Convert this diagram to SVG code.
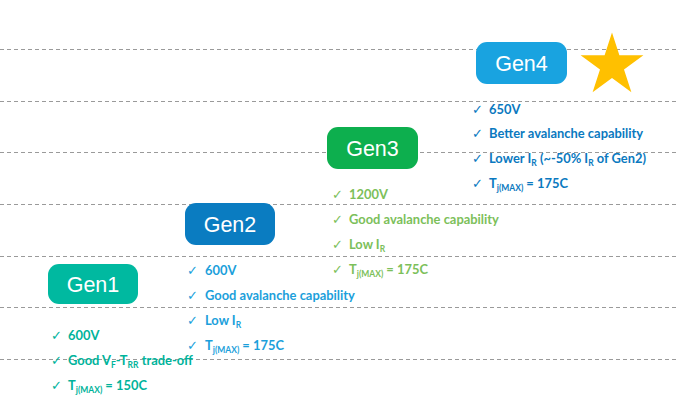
<svg xmlns="http://www.w3.org/2000/svg" width="678" height="408" viewBox="0 0 678 408">
<style>
.grid{stroke:#9a9a9a;stroke-width:1;stroke-dasharray:4 3;fill:none}
.lbl{font-family:"Liberation Sans",Arial,sans-serif;font-size:21.5px;fill:#fff;text-anchor:middle}
.it{font-family:Lato,"Liberation Sans",sans-serif;font-weight:bold;font-size:12.9px}
.ck{font-family:"DejaVu Sans",sans-serif;font-size:13px}
.sub{font-size:8.5px}
.g1{fill:#00b39b}.g2{fill:#1c9fdb}.g3{fill:#7cc05a}.g4{fill:#0a79c0}
</style>
<rect width="678" height="408" fill="#fff"/>
<g id="gridlines">
<line class="grid" x1="0" y1="49.5" x2="678" y2="49.5"/>
<line class="grid" x1="0" y1="101.5" x2="678" y2="101.5"/>
<line class="grid" x1="0" y1="152.5" x2="678" y2="152.5"/>
<line class="grid" x1="0" y1="204.5" x2="678" y2="204.5"/>
<line class="grid" x1="0" y1="256.5" x2="678" y2="256.5"/>
<line class="grid" x1="0" y1="307.5" x2="678" y2="307.5"/>
<line class="grid" x1="0" y1="359.5" x2="678" y2="359.5"/>
</g>
<g id="connectors"></g>
<g id="gen1">
<rect x="48" y="264" width="90" height="40" rx="11" fill="#00b9a0"/>
<text class="lbl" x="93" y="291.5">Gen1</text>
<g class="g1">
<text class="ck" x="51" y="340">✓</text><text class="it" x="68" y="340">600V</text>
<text class="ck" x="51" y="365">✓</text><text class="it" x="68" y="365">Good V<tspan class="sub" dy="3">F</tspan><tspan dy="-3">-T</tspan><tspan class="sub" dy="3">RR</tspan><tspan dy="-3"> trade-off</tspan></text>
<text class="ck" x="51" y="390">✓</text><text class="it" x="68" y="390">T<tspan class="sub" dy="3">j(MAX)</tspan><tspan dy="-3"> = 150C</tspan></text>
</g>
</g>
<g id="gen2">
<rect x="185" y="203" width="90" height="42" rx="11" fill="#0a7cc1"/>
<text class="lbl" x="230" y="231.5">Gen2</text>
<g class="g2">
<text class="ck" x="187" y="275">✓</text><text class="it" x="205" y="275">600V</text>
<text class="ck" x="187" y="300">✓</text><text class="it" x="205" y="300">Good avalanche capability</text>
<text class="ck" x="187" y="325">✓</text><text class="it" x="205" y="325">Low I<tspan class="sub" dy="3">R</tspan></text>
<text class="ck" x="187" y="350">✓</text><text class="it" x="205" y="350">T<tspan class="sub" dy="3">j(MAX)</tspan><tspan dy="-3"> = 175C</tspan></text>
</g>
</g>
<g id="gen3">
<rect x="327" y="127" width="91" height="42" rx="11" fill="#0daf4e"/>
<text class="lbl" x="372.5" y="155.5">Gen3</text>
<g class="g3">
<text class="ck" x="332" y="199">✓</text><text class="it" x="349" y="199">1200V</text>
<text class="ck" x="332" y="224">✓</text><text class="it" x="349" y="224">Good avalanche capability</text>
<text class="ck" x="332" y="249">✓</text><text class="it" x="349" y="249">Low I<tspan class="sub" dy="3">R</tspan></text>
<text class="ck" x="332" y="274">✓</text><text class="it" x="349" y="274">T<tspan class="sub" dy="3">j(MAX)</tspan><tspan dy="-3"> = 175C</tspan></text>
</g>
</g>
<g id="gen4">
<rect x="476" y="42" width="91" height="42" rx="11" fill="#19a3e0"/>
<text class="lbl" x="521.5" y="70.5">Gen4</text>
<g class="g4">
<text class="ck" x="472" y="114">✓</text><text class="it" x="489" y="114">650V</text>
<text class="ck" x="472" y="138">✓</text><text class="it" x="489" y="138">Better avalanche capability</text>
<text class="ck" x="472" y="163">✓</text><text class="it" x="489" y="163">Lower I<tspan class="sub" dy="3">R</tspan><tspan dy="-3"> (~-50% I</tspan><tspan class="sub" dy="3">R</tspan><tspan dy="-3"> of Gen2)</tspan></text>
<text class="ck" x="472" y="188">✓</text><text class="it" x="489" y="188">T<tspan class="sub" dy="3">j(MAX)</tspan><tspan dy="-3"> = 175C</tspan></text>
</g>
</g>
<g id="star">
<polygon fill="#ffc000" points="612,32.5 619.4,55.3 643.4,55.3 624,69.4 631.4,92.2 612,78.1 592.6,92.2 600,69.4 580.6,55.3 604.6,55.3"/>
</g>
</svg>
